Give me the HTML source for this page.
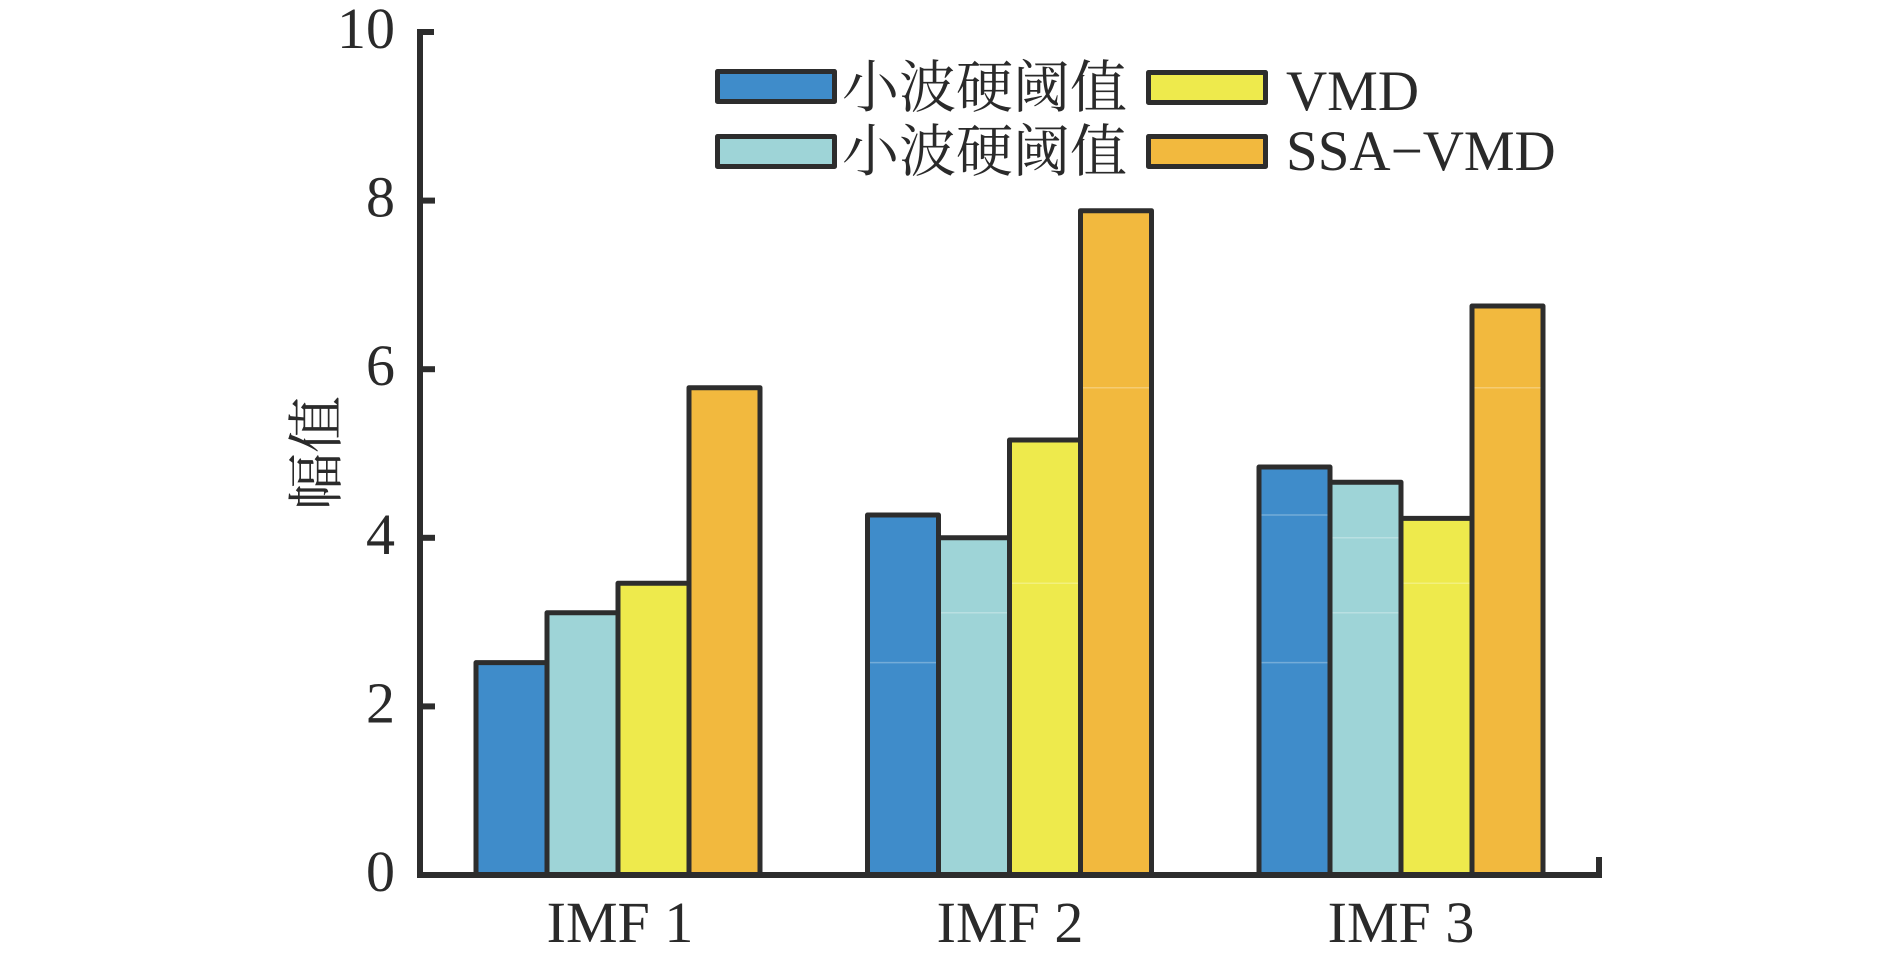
<!DOCTYPE html>
<html>
<head>
<meta charset="utf-8">
<style>
  html,body{margin:0;padding:0;background:#ffffff;}
  svg{display:block;}
  .num{font-family:"Liberation Serif","Noto Serif CJK SC",serif;font-size:58px;fill:#2a2a2a;}
  .cjk{font-family:"Liberation Serif","Noto Serif CJK SC",serif;font-size:57px;fill:#2a2a2a;}
</style>
</head>
<body>
<svg width="1890" height="959" viewBox="0 0 1890 959" xmlns="http://www.w3.org/2000/svg">
  <rect x="0" y="0" width="1890" height="959" fill="#ffffff"/>

  <!-- Bars: y = 875 - 84.3*v -->
  <g stroke="#2d2d2d" stroke-width="5" stroke-linejoin="round">
    <!-- IMF 1 (center 618) -->
    <rect x="476" y="662.6" width="71" height="212.4" fill="#3f8cca"/>
    <rect x="547" y="612.8" width="71" height="262.2" fill="#9ed4d7"/>
    <rect x="618" y="583.3" width="71" height="291.7" fill="#eeea4c"/>
    <rect x="689" y="387.7" width="71" height="487.3" fill="#f2b93e"/>
    <!-- IMF 2 (center 1009.5) -->
    <rect x="867.5" y="515.0" width="71" height="360.0" fill="#3f8cca"/>
    <rect x="938.5" y="537.8" width="71" height="337.2" fill="#9ed4d7"/>
    <rect x="1009.5" y="440.0" width="71" height="435.0" fill="#eeea4c"/>
    <rect x="1080.5" y="210.7" width="71" height="664.3" fill="#f2b93e"/>
    <!-- IMF 3 (center 1401) -->
    <rect x="1259" y="467.0" width="71" height="408.0" fill="#3f8cca"/>
    <rect x="1330" y="482.2" width="71" height="392.8" fill="#9ed4d7"/>
    <rect x="1401" y="518.4" width="71" height="356.6" fill="#eeea4c"/>
    <rect x="1472" y="306.0" width="71" height="569.0" fill="#f2b93e"/>
  </g>

  <!-- faint seam lines inside bars -->
  <g stroke="#ffffff" stroke-opacity="0.28" stroke-width="1.5">
    <line x1="870" y1="662.6" x2="936" y2="662.6"/>
    <line x1="941" y1="612.8" x2="1007" y2="612.8"/>
    <line x1="1012" y1="583.3" x2="1078" y2="583.3"/>
    <line x1="1083" y1="387.7" x2="1149" y2="387.7"/>
    <line x1="1261.5" y1="662.6" x2="1327.5" y2="662.6"/>
    <line x1="1261.5" y1="515.0" x2="1327.5" y2="515.0"/>
    <line x1="1332.5" y1="612.8" x2="1398.5" y2="612.8"/>
    <line x1="1332.5" y1="537.8" x2="1398.5" y2="537.8"/>
    <line x1="1403.5" y1="583.3" x2="1469.5" y2="583.3"/>
    <line x1="1474.5" y1="387.7" x2="1540.5" y2="387.7"/>
  </g>

  <!-- Axes -->
  <g stroke="#2d2d2d" stroke-width="6" fill="none">
    <line x1="420" y1="29" x2="420" y2="878"/>
    <line x1="417" y1="875" x2="1602" y2="875"/>
    <line x1="1599" y1="857" x2="1599" y2="878"/>
    <!-- y ticks -->
    <line x1="420" y1="32" x2="434" y2="32"/>
    <line x1="420" y1="200.6" x2="435" y2="200.6"/>
    <line x1="420" y1="369.2" x2="435" y2="369.2"/>
    <line x1="420" y1="537.8" x2="435" y2="537.8"/>
    <line x1="420" y1="706.4" x2="435" y2="706.4"/>
  </g>

  <!-- Y tick labels -->
  <g class="num" text-anchor="end">
    <text x="395" y="48">10</text>
    <text x="395" y="216.6">8</text>
    <text x="395" y="385.2">6</text>
    <text x="395" y="553.8">4</text>
    <text x="395" y="722.4">2</text>
    <text x="395" y="891">0</text>
  </g>

  <!-- X tick labels -->
  <g class="num" text-anchor="middle">
    <text x="620" y="942">IMF 1</text>
    <text x="1010" y="942">IMF 2</text>
    <text x="1401" y="942">IMF 3</text>
  </g>

  <!-- Y axis label -->
  <text class="cjk" x="0" y="0" text-anchor="middle" transform="translate(336,453) rotate(-90)">幅值</text>

  <!-- Legend -->
  <g stroke="#2d2d2d" stroke-width="5" stroke-linejoin="round">
    <rect x="717.5" y="71.5" width="117" height="30" fill="#3f8cca"/>
    <rect x="717.5" y="136.5" width="117" height="30" fill="#9ed4d7"/>
    <rect x="1148.5" y="72.5" width="117" height="30" fill="#eeea4c"/>
    <rect x="1148.5" y="136.5" width="117" height="30" fill="#f2b93e"/>
  </g>
  <g class="cjk">
    <text x="842" y="107">小波硬阈值</text>
    <text x="842" y="171">小波硬阈值</text>
  </g>
  <g class="num" style="font-size:57px">
    <text x="1286" y="110">VMD</text>
    <text x="1286" y="170">SSA−VMD</text>
  </g>
</svg>
</body>
</html>
